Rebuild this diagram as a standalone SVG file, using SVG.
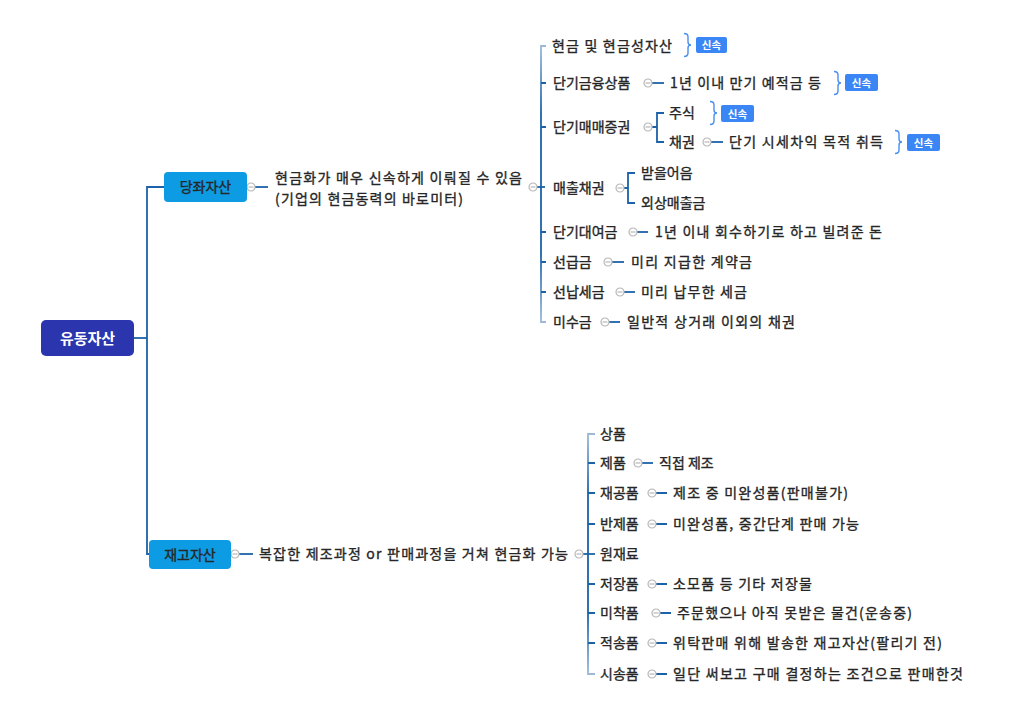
<svg xmlns="http://www.w3.org/2000/svg" xmlns:xlink="http://www.w3.org/1999/xlink" width="1011" height="705" viewBox="0 0 1011 705">
<style>
.t{font-family:"Noto Sans CJK KR","Noto Sans",sans-serif;font-size:14px;fill:#262626;stroke:#262626;stroke-width:0.35}
.ln{stroke:#1b62a8;stroke-width:1.8;fill:none}
.cc{fill:#fff;stroke:#b8b8b8;stroke-width:1.2}
.ccl{stroke:#b8b8b8;stroke-width:1.2}
.br{stroke:#4a8ff0;stroke-width:1.4;fill:none}
.tag{fill:#3b86f5}
.tt{font-family:"Noto Sans CJK KR","Noto Sans",sans-serif;font-size:10.5px;font-weight:bold;fill:#fff}
</style>
<defs>
<g id="cc"><circle class="cc" cx="0" cy="0" r="4"/><line class="ccl" x1="-2.5" y1="0" x2="2.5" y2="0"/></g>
<path id="brace" d="M0 -11.5 q4 0 4 3.5 v5 q0 3 3 3 q-3 0 -3 3 v5 q0 3.5 -4 3.5"/>
<linearGradient id="g1" gradientUnits="userSpaceOnUse" x1="0" y1="45" x2="0" y2="322">
<stop offset="0" stop-color="#9cbad8"/><stop offset="0.25" stop-color="#1b62a8"/><stop offset="0.75" stop-color="#1b62a8"/><stop offset="1" stop-color="#9cbad8"/>
</linearGradient>
<linearGradient id="g2" gradientUnits="userSpaceOnUse" x1="0" y1="434" x2="0" y2="674">
<stop offset="0" stop-color="#9cbad8"/><stop offset="0.25" stop-color="#1b62a8"/><stop offset="0.75" stop-color="#1b62a8"/><stop offset="1" stop-color="#9cbad8"/>
</linearGradient>
</defs>

<g id="connectors">
<path class="ln" d="M134 338 H147" stroke-width="2.6"/>
<path class="ln" d="M164 187 H147 V554 H149" stroke-width="2.2"/>
<path class="ln" d="M255 187 H268"/>
<path class="ln" d="M537 187 H545"/>
<path class="ln" style="stroke:url(#g1)" d="M546 46 H541 V322 H546"/>
<path class="ln" d="M541 83 H546 M541 127 H546 M541 232 H546 M541 262 H546 M541 292 H546"/>
<path class="ln" d="M652 83 H664"/>
<path class="ln" d="M652 127 H657 M664 113 H657 V142 H664"/>
<path class="ln" d="M711 142 H723"/>
<path class="ln" d="M624 188 H628 M635 173 H628 V203 H635"/>
<path class="ln" d="M637 232 H648"/>
<path class="ln" d="M612 262 H624"/>
<path class="ln" d="M624 292 H635"/>
<path class="ln" d="M609 322 H620"/>
<path class="ln" d="M239 554 H253"/>
<path class="ln" d="M583 554 H595"/>
<path class="ln" style="stroke:url(#g2)" d="M595 434 H588 V674 H595"/>
<path class="ln" d="M588 463 H595 M588 493 H595 M588 524 H595 M588 584 H595 M588 613 H595 M588 643 H595"/>
<path class="ln" d="M642 463 H653"/>
<path class="ln" d="M656 493 H667 M656 524 H667 M656 584 H667 M660 613 H671 M656 643 H667 M656 674 H667"/>
<use xlink:href="#cc" x="251" y="187"/>
<use xlink:href="#cc" x="533" y="187"/>
<use xlink:href="#cc" x="648" y="83"/>
<use xlink:href="#cc" x="648" y="127"/>
<use xlink:href="#cc" x="707" y="142"/>
<use xlink:href="#cc" x="620" y="188"/>
<use xlink:href="#cc" x="633" y="232"/>
<use xlink:href="#cc" x="608" y="262"/>
<use xlink:href="#cc" x="620" y="292"/>
<use xlink:href="#cc" x="605" y="322"/>
<use xlink:href="#cc" x="235" y="554"/>
<use xlink:href="#cc" x="579" y="554"/>
<use xlink:href="#cc" x="638" y="463"/>
<use xlink:href="#cc" x="652" y="493"/>
<use xlink:href="#cc" x="652" y="524"/>
<use xlink:href="#cc" x="652" y="584"/>
<use xlink:href="#cc" x="656" y="613"/>
<use xlink:href="#cc" x="652" y="643"/>
<use xlink:href="#cc" x="652" y="674"/>
</g>

<g id="root">
<rect x="41" y="320" width="93" height="36" rx="5" fill="#2b35ae"/>
<text class="t" x="87.5" y="344" text-anchor="middle" style="fill:#fff;stroke:none;font-size:15px;font-weight:bold">유동자산</text>
</g>

<g id="n-dangja">
<rect x="164" y="172" width="83" height="30" rx="4" fill="#0d9be4"/>
<text class="t" x="205.5" y="192" text-anchor="middle">당좌자산</text>
</g>
<g id="n-dangja-desc">
<text class="t"><tspan x="275" y="183" textLength="247">현금화가 매우 신속하게 이뤄질 수 있음</tspan><tspan x="275" y="203.5" textLength="188">(기업의 현금동력의 바로미터)</tspan></text>
</g>

<g id="n-cash">
<text class="t" x="552" y="51" textLength="120">현금 및 현금성자산</text>
<use xlink:href="#brace" class="br" x="684" y="45"/>
<rect class="tag" x="696" y="37" width="31" height="16" rx="2"/>
<text class="tt" x="711.5" y="49" text-anchor="middle">신속</text>
</g>
<g id="n-fin">
<text class="t" x="553" y="88">단기금융상품</text>
<text class="t" x="670" y="88" textLength="151">1년 이내 만기 예적금 등</text>
<use xlink:href="#brace" class="br" x="834" y="83"/>
<rect class="tag" x="845" y="74" width="33" height="17" rx="2"/>
<text class="tt" x="861.5" y="86.5" text-anchor="middle">신속</text>
</g>
<g id="n-sec">
<text class="t" x="553" y="132">단기매매증권</text>
<text class="t" x="669" y="118">주식</text>
<use xlink:href="#brace" class="br" x="710" y="113"/>
<rect class="tag" x="721" y="105" width="33" height="17" rx="2"/>
<text class="tt" x="737.5" y="117.5" text-anchor="middle">신속</text>
<text class="t" x="669" y="147">채권</text>
<text class="t" x="729" y="147" textLength="154">단기 시세차익 목적 취득</text>
<use xlink:href="#brace" class="br" x="895" y="142"/>
<rect class="tag" x="907" y="134" width="33" height="17" rx="2"/>
<text class="tt" x="923.5" y="146.5" text-anchor="middle">신속</text>
</g>
<g id="n-recv">
<text class="t" x="553" y="193">매출채권</text>
<text class="t" x="641" y="178">받을어음</text>
<text class="t" x="641" y="208">외상매출금</text>
</g>
<g id="n-loan">
<text class="t" x="553" y="237">단기대여금</text>
<text class="t" x="655" y="237" textLength="227">1년 이내 회수하기로 하고 빌려준 돈</text>
</g>
<g id="n-adv">
<text class="t" x="553" y="267">선급금</text>
<text class="t" x="631" y="267" textLength="121">미리 지급한 계약금</text>
</g>
<g id="n-tax">
<text class="t" x="553" y="297">선납세금</text>
<text class="t" x="641" y="297" textLength="106">미리 납무한 세금</text>
</g>
<g id="n-misc">
<text class="t" x="553" y="327">미수금</text>
<text class="t" x="627" y="327" textLength="168">일반적 상거래 이외의 채권</text>
</g>

<g id="n-jaego">
<rect x="149" y="540" width="82" height="29" rx="4" fill="#0d9be4"/>
<text class="t" x="190" y="559.5" text-anchor="middle">재고자산</text>
</g>
<g id="n-jaego-desc">
<text class="t" x="259" y="559" textLength="309">복잡한 제조과정 or 판매과정을 거쳐 현금화 가능</text>
</g>

<g id="n-goods"><text class="t" x="600" y="439">상품</text></g>
<g id="n-prod"><text class="t" x="600" y="468">제품</text><text class="t" x="659" y="468">직접 제조</text></g>
<g id="n-wip"><text class="t" x="600" y="498">재공품</text><text class="t" x="673" y="498" textLength="175">제조 중 미완성품(판매불가)</text></g>
<g id="n-semi"><text class="t" x="600" y="529">반제품</text><text class="t" x="673" y="529" textLength="186">미완성품, 중간단계 판매 가능</text></g>
<g id="n-raw"><text class="t" x="600" y="559">원재료</text></g>
<g id="n-store"><text class="t" x="600" y="589">저장품</text><text class="t" x="673" y="589" textLength="139">소모품 등 기타 저장물</text></g>
<g id="n-transit"><text class="t" x="600" y="618">미착품</text><text class="t" x="677" y="618" textLength="235">주문했으나 아직 못받은 물건(운송중)</text></g>
<g id="n-consign"><text class="t" x="600" y="648">적송품</text><text class="t" x="673" y="648" textLength="269">위탁판매 위해 발송한 재고자산(팔리기 전)</text></g>
<g id="n-trial"><text class="t" x="600" y="679">시송품</text><text class="t" x="673" y="679" textLength="290">일단 써보고 구매 결정하는 조건으로 판매한것</text></g>
</svg>
